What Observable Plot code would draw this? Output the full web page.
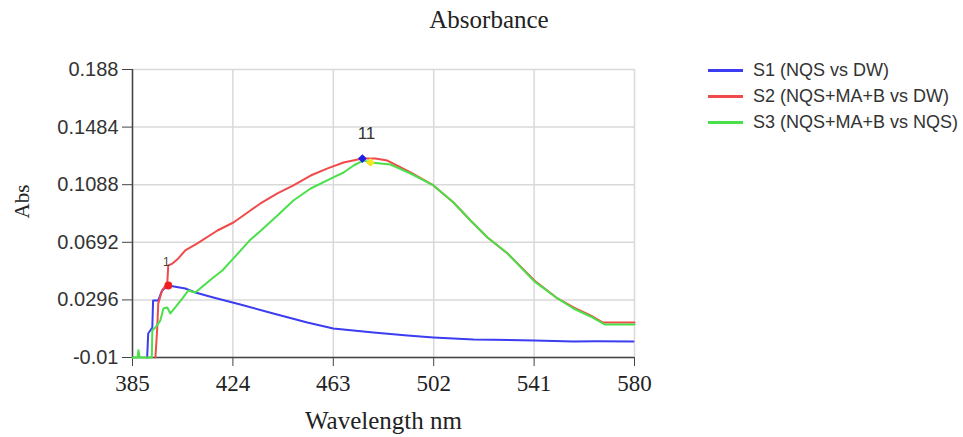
<!DOCTYPE html>
<html>
<head>
<meta charset="utf-8">
<script src="https://cdn.jsdelivr.net/npm/d3@7"></script>
<script src="https://cdn.jsdelivr.net/npm/@observablehq/plot@0.6"></script>
<style>
  html, body { margin: 0; padding: 0; background: #fff; }
  #wrap { position: relative; width: 963px; height: 437px; overflow: hidden; background: #fff; }
  #title { height: 40px; line-height: 40px; text-align: center; padding-left: 15px; box-sizing: border-box;
           font-family: "Liberation Serif", "DejaVu Serif", serif; font-size: 25px; color: #222; }
  .leg { position: absolute; left: 708px; height: 26px; display: flex; align-items: center;
         font-family: "Liberation Sans", Arial, sans-serif; font-size: 18px; color: #333; white-space: nowrap; }
  .leg span.sw { display: inline-block; width: 35px; height: 3px; margin-right: 10px; }
</style>
</head>
<body>
<div id="wrap">
  <div id="title">Absorbance</div>
  <div id="chart"></div>
  <div id="legend"></div>
</div>
<script>
// ---- tick values ----
const xTicks = [385, 424, 463, 502, 541, 580];
const yTicks = [-0.01, 0.0296, 0.0692, 0.1088, 0.1484, 0.188];

// ---- series ----
const seriesNames = ["S1 (NQS vs DW)", "S2 (NQS+MA+B vs DW)", "S3 (NQS+MA+B vs NQS)"];
const seriesColors = ["#3c3cf0", "#f04a4a", "#4ae04a"];

const s1Wavelength = [390.7, 391.1, 392.7, 393.0, 395.0, 396.5, 398.9, 405.5, 409.4, 416.4, 426.9, 439.7, 452.9, 463.0, 478.6, 491.8, 501.9, 517.4, 525.0, 541.1, 556.3, 565.0, 579.6];
const s1Abs        = [-0.01, 0.0065, 0.0106, 0.0292, 0.0292, 0.0361, 0.0395, 0.0374, 0.0347, 0.0313, 0.0264, 0.0203, 0.0141, 0.0099, 0.0072, 0.0051, 0.0038, 0.0024, 0.0022, 0.0017, 0.0010, 0.0012, 0.0010];

const s2Wavelength = [393.9, 394.6, 395.0, 396.5, 398.5, 398.9, 400.5, 402.8, 405.5, 410.2, 418.0, 424.2, 430.8, 434.7, 441.3, 447.5, 454.2, 460.8, 467.0, 474.3, 479.3, 484.0, 493.0, 501.9, 509.7, 516.3, 522.9, 530.7, 541.1, 550.1, 556.3, 562.9, 567.6, 580.0];
const s2Abs        = [-0.01, 0.0099, 0.0271, 0.0361, 0.0409, 0.0533, 0.0546, 0.0581, 0.0636, 0.0684, 0.0773, 0.0828, 0.0911, 0.0959, 0.1028, 0.1083, 0.1151, 0.1200, 0.1241, 0.1268, 0.1268, 0.1254, 0.1172, 0.1083, 0.0966, 0.0842, 0.0725, 0.0615, 0.0429, 0.0306, 0.0244, 0.0189, 0.0141, 0.0141];

const s3Wavelength = [385.0, 387.0, 387.3, 387.8, 392.5, 392.7, 393.9, 395.8, 397.0, 398.5, 399.7, 401.6, 404.4, 406.7, 409.4, 416.4, 419.9, 424.2, 430.8, 434.7, 441.3, 447.5, 454.2, 463.0, 467.0, 470.9, 474.7, 477.4, 485.2, 493.0, 501.9, 509.7, 516.3, 522.9, 530.7, 541.1, 550.1, 556.3, 562.9, 568.4, 580.0];
const s3Abs        = [-0.01, -0.01, -0.005, -0.01, -0.01, 0.0086, 0.0106, 0.0154, 0.0237, 0.0244, 0.0203, 0.0244, 0.0306, 0.0361, 0.0347, 0.0450, 0.0498, 0.0581, 0.0710, 0.0770, 0.0876, 0.0979, 0.1062, 0.1138, 0.1172, 0.1220, 0.1255, 0.1241, 0.1227, 0.1165, 0.1083, 0.0966, 0.0842, 0.0725, 0.0615, 0.0423, 0.0306, 0.0237, 0.0182, 0.0127, 0.0127];

// ---- peak markers ----
const markerWavelength = [398.9, 474.3, 477.4];
const markerAbs = [0.0395, 0.1268, 0.1241];
const markerLabels = ["1", "1", "1"];
const markerColors = ["#f01e1e", "#1e1ee6", "#f5e61e"];
const markerSymbols = ["circle", "diamond2", "diamond2"];

// build table
const toRows = (xs, ys, s) => xs.map((x, i) => ({x, y: ys[i], s}));
const rows = [
  ...toRows(s1Wavelength, s1Abs, seriesNames[0]),
  ...toRows(s2Wavelength, s2Abs, seriesNames[1]),
  ...toRows(s3Wavelength, s3Abs, seriesNames[2])
];
const markers = markerWavelength.map((x, i) => ({x, y: markerAbs[i], label: markerLabels[i], color: markerColors[i], symbol: markerSymbols[i]}));
const peakLabelY = Math.max(markerAbs[1], markerAbs[2]);

const serif = "Liberation Serif, DejaVu Serif, serif";
const sans = "Liberation Sans, Arial, sans-serif";

const chart = Plot.plot({
  width: 963,
  height: 397,
  marginTop: 29,
  marginBottom: 80,
  marginLeft: 132,
  marginRight: 329,
  style: {background: "transparent", overflow: "visible"},
  x: {domain: [385, 580], label: null},
  y: {domain: [-0.01, 0.188], label: null},
  color: {domain: seriesNames, range: seriesColors},
  marks: [
    Plot.gridX(xTicks, {stroke: "#d9d9d9", strokeOpacity: 1, strokeWidth: 1.5}),
    Plot.gridY(yTicks, {stroke: "#d9d9d9", strokeOpacity: 1, strokeWidth: 1.5}),
    Plot.axisX(xTicks, {tickSize: 9, tickPadding: 8, fontSize: 23, fontFamily: serif, fill: "#222", stroke: "#444", tickFormat: d => String(d), label: null}),
    Plot.axisY(yTicks, {tickSize: 10, tickPadding: 4, fontSize: 20, fontFamily: sans, fill: "#333", stroke: "#444", tickFormat: d => String(d), label: null}),
    Plot.ruleX([385], {stroke: "#444", strokeWidth: 1.5}),
    Plot.ruleY([-0.01], {stroke: "#444", strokeWidth: 1.5}),
    Plot.line(rows, {x: "x", y: "y", z: "s", stroke: "s", strokeWidth: 2, strokeLinejoin: "round"}),
    Plot.dot(markers, {x: "x", y: "y", fill: "color", stroke: "color", symbol: "symbol", r: d => d.symbol === "circle" ? 5.5 : 5}),
    Plot.text(markers.slice(0, 1), {x: "x", y: "y", text: "label", dy: -23, dx: -2, fontSize: 12, fontFamily: sans, fill: "#444"}),
    Plot.text(markers.slice(1), {x: "x", y: () => peakLabelY, text: "label", dy: -25, fontSize: 17, fontFamily: sans, fill: "#333"}),
    Plot.text(["Wavelength nm"], {frameAnchor: "bottom", lineAnchor: "middle", dy: 63, fontSize: 25, fontFamily: serif, fill: "#222"}),
    Plot.text(["Abs"], {frameAnchor: "left", lineAnchor: "middle", dx: -110, dy: 5, rotate: -90, fontSize: 21, fontFamily: serif, fill: "#222"})
  ]
});
document.getElementById("chart").appendChild(chart);

// legend
const legend = document.getElementById("legend");
const legendTops = [57, 83, 109];
seriesNames.forEach((name, i) => {
  const d = document.createElement("div");
  d.className = "leg";
  d.style.top = legendTops[i] + "px";
  const sw = document.createElement("span");
  sw.className = "sw";
  sw.style.background = seriesColors[i];
  d.appendChild(sw);
  d.appendChild(document.createTextNode(name));
  legend.appendChild(d);
});
</script>
</body>
</html>
